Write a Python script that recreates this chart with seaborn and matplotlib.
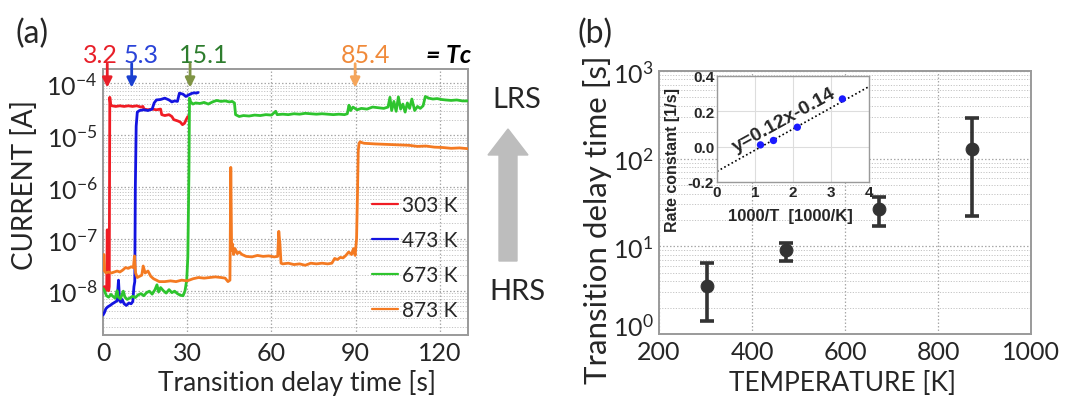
import numpy as np
import pandas as pd
import matplotlib
matplotlib.use("Agg")
import matplotlib.pyplot as plt
import seaborn as sns
from matplotlib.patches import FancyArrow
from matplotlib.transforms import ScaledTranslation
from matplotlib.ticker import LogLocator, FixedLocator, NullFormatter, MultipleLocator, FuncFormatter

# ---------------- data: panel (a) current traces ----------------
t_303 = [0.0, 0.5, 1.0, 1.3, 1.5, 1.7, 2.0, 2.2, 2.4, 2.7, 3.2, 4.5, 6.0, 7.5, 9.0, 10.5,
         12.0, 13.5, 14.2, 14.6, 16.0, 17.5, 19.0, 20.5, 20.9, 22.0, 23.5, 24.5, 25.2, 26.5,
         27.5, 28.3, 29.0, 29.6, 30.2]
i_303 = [1.1e-8, 1.2e-8, 1.0e-8, 1.1e-8, 1.5e-7, 1.2e-8, 1.0e-8, 1.2e-8, 5.4e-5, 3.8e-5,
         3.7e-5, 3.6e-5, 3.7e-5, 3.6e-5, 3.7e-5, 3.6e-5, 3.7e-5, 3.5e-5, 3.6e-5, 3.2e-5,
         3.1e-5, 3.2e-5, 3.1e-5, 3.2e-5, 2.5e-5, 2.4e-5, 2.5e-5, 2.3e-5, 2.0e-5, 1.9e-5,
         1.8e-5, 1.6e-5, 1.7e-5, 2.0e-5, 2.3e-5]

t_473 = [0.0, 0.5, 1.0, 1.7, 2.5, 3.3, 4.2, 5.0, 5.5, 5.9, 6.3, 6.8, 7.5, 8.3, 9.2, 10.0,
         10.6, 11.0, 11.3, 11.5, 11.8, 12.2, 13.0, 14.5, 16.0, 17.5, 18.2, 19.0, 20.5, 22.0,
         23.5, 24.5, 25.5, 26.5, 27.2, 28.5, 29.5, 30.5, 31.5, 32.5, 33.2, 33.9]
i_473 = [3.4e-9, 3.8e-9, 4.5e-9, 4.9e-9, 5.2e-9, 5.6e-9, 6.0e-9, 6.4e-9, 1.6e-8, 6.5e-9,
         6.0e-9, 6.8e-9, 5.6e-9, 5.2e-9, 5.8e-9, 5.6e-9, 6.2e-9, 1.2e-8, 1.5e-8, 1.0e-6,
         1.5e-5, 2.8e-5, 3.0e-5, 3.1e-5, 3.0e-5, 3.2e-5, 4.2e-5, 4.8e-5, 4.9e-5, 5.2e-5,
         4.8e-5, 4.4e-5, 4.6e-5, 4.5e-5, 6.5e-5, 6.2e-5, 5.6e-5, 6.0e-5, 6.4e-5, 6.6e-5,
         6.5e-5, 6.7e-5]

t_673 = [0.0, 0.5, 1.2, 2.0, 2.8, 3.5, 4.3, 5.0, 5.4, 6.2, 7.2, 7.8, 8.6, 9.5, 10.5, 11.5,
         12.5, 13.5, 14.5, 15.5, 16.5, 17.5, 18.5, 19.2, 19.8, 20.5, 21.5, 22.5, 23.5, 24.5,
         25.5, 26.5, 27.5, 28.5, 29.2, 29.8, 30.2, 30.6, 30.8, 31.2, 32.0, 33.0, 34.5, 36.0,
         37.5, 39.0, 40.5, 42.0, 43.5, 45.0, 46.0, 46.8, 47.2, 48.5, 50.0, 52.0, 54.0, 56.0,
         58.0, 60.0, 61.5, 62.0, 64.0, 66.0, 68.0, 70.0, 72.0, 74.0, 76.0, 78.0, 80.0, 82.0,
         84.0, 86.0, 87.0, 87.6, 88.2, 89.0, 90.5, 92.0, 94.0, 96.0, 98.0, 100.0, 101.5,
         102.2, 102.8, 103.6, 104.4, 105.2, 106.0, 106.8, 107.6, 108.4, 109.2, 110.0, 111.0,
         112.0, 113.0, 114.0, 114.8, 116.0, 117.5, 119.0, 120.5, 122.0, 124.0, 126.0, 128.0,
         130.0]
i_673 = [1.1e-8, 1.0e-8, 8.0e-9, 7.5e-9, 8.5e-9, 7.8e-9, 7.2e-9, 1.0e-8, 7.6e-9, 7.0e-9,
         9.8e-9, 7.5e-9, 6.8e-9, 7.2e-9, 7.8e-9, 7.4e-9, 8.3e-9, 8.8e-9, 8.0e-9, 9.2e-9,
         9.8e-9, 8.6e-9, 1.05e-8, 1.3e-8, 9.5e-9, 1.15e-8, 1.0e-8, 9.0e-9, 1.05e-8, 9.2e-9,
         9.8e-9, 8.8e-9, 8.2e-9, 8.0e-9, 1.0e-8, 1.6e-8, 4.5e-8, 2.0e-6, 5.2e-5, 4.4e-5,
         4.0e-5, 4.2e-5, 4.1e-5, 4.3e-5, 4.0e-5, 4.4e-5, 4.7e-5, 4.5e-5, 4.6e-5, 4.4e-5,
         4.5e-5, 4.2e-5, 2.5e-5, 2.3e-5, 2.4e-5, 2.35e-5, 2.45e-5, 2.4e-5, 2.5e-5, 2.45e-5,
         2.9e-5, 2.5e-5, 2.55e-5, 2.5e-5, 2.6e-5, 2.55e-5, 2.65e-5, 2.6e-5, 2.55e-5, 2.6e-5,
         2.55e-5, 2.5e-5, 2.55e-5, 2.5e-5, 2.6e-5, 3.8e-5, 3.0e-5, 3.5e-5, 3.1e-5, 3.3e-5,
         3.2e-5, 3.5e-5, 3.4e-5, 3.3e-5, 3.5e-5, 5.4e-5, 3.0e-5, 4.5e-5, 2.9e-5, 5.5e-5,
         3.2e-5, 4.0e-5, 2.8e-5, 4.2e-5, 3.3e-5, 5.0e-5, 3.0e-5, 3.6e-5, 3.3e-5, 3.7e-5,
         5.6e-5, 5.2e-5, 5.0e-5, 5.1e-5, 4.9e-5, 4.8e-5, 4.7e-5, 4.8e-5, 4.6e-5, 4.6e-5]

t_873 = [0.0, 0.3, 0.6, 1.0, 2.0, 3.0, 4.0, 5.0, 6.0, 7.0, 8.0, 9.0, 10.0, 10.8, 11.2, 11.6,
         12.2, 13.0, 13.8, 14.3, 15.0, 16.0, 17.0, 18.0, 19.0, 20.0, 22.0, 24.0, 26.0, 28.0,
         30.0, 32.0, 34.0, 36.0, 38.0, 40.0, 42.0, 43.5, 44.5, 45.2, 45.5, 45.8, 46.1, 46.5,
         47.0, 47.8, 48.5, 49.5, 51.0, 53.0, 55.0, 57.0, 59.0, 61.0, 62.2, 62.6, 63.0, 63.4,
         64.0, 66.0, 68.0, 70.0, 72.0, 74.0, 76.0, 78.0, 80.0, 81.5, 82.5, 83.5, 84.5, 85.5,
         86.5, 87.5, 88.5, 89.2, 89.8, 90.3, 90.6, 90.9, 91.2, 91.6, 92.2, 93.0, 95.0, 97.0,
         100.0, 103.0, 106.0, 109.0, 112.0, 115.0, 118.0, 121.0, 124.0, 127.0, 130.0]
i_873 = [2.5e-8, 5.0e-8, 2.4e-8, 2.2e-8, 2.3e-8, 2.2e-8, 2.3e-8, 2.4e-8, 2.3e-8, 2.5e-8,
         2.8e-8, 2.7e-8, 2.9e-8, 2.8e-8, 4.7e-8, 2.2e-8, 1.8e-8, 1.9e-8, 2.0e-8, 3.0e-8,
         2.2e-8, 2.4e-8, 1.9e-8, 1.7e-8, 1.6e-8, 1.5e-8, 1.5e-8, 1.55e-8, 1.5e-8, 1.6e-8,
         1.55e-8, 1.7e-8, 1.8e-8, 1.75e-8, 1.8e-8, 1.85e-8, 1.8e-8, 1.75e-8, 1.5e-8, 1.6e-8,
         2.4e-6, 6.0e-8, 8.0e-8, 5.0e-8, 6.5e-8, 5.2e-8, 5.6e-8, 5.0e-8, 4.6e-8, 4.5e-8,
         4.8e-8, 4.6e-8, 4.7e-8, 4.5e-8, 4.6e-8, 1.4e-7, 8.0e-8, 3.4e-8, 3.3e-8, 3.4e-8,
         3.2e-8, 3.3e-8, 3.1e-8, 3.4e-8, 3.3e-8, 3.4e-8, 3.3e-8, 3.4e-8, 4.2e-8, 4.0e-8,
         4.4e-8, 4.3e-8, 4.8e-8, 5.6e-8, 5.0e-8, 6.5e-8, 4.8e-8, 1.0e-7, 6.0e-7, 5.0e-6,
         7.0e-6, 7.5e-6, 7.2e-6, 7.0e-6, 6.9e-6, 6.8e-6, 6.7e-6, 6.6e-6, 6.5e-6, 6.4e-6,
         6.1e-6, 6.2e-6, 5.9e-6, 5.8e-6, 5.6e-6, 5.7e-6, 5.5e-6]

series_labels = ["303 K", "473 K", "673 K", "873 K"]
series_colors = ["#f01c24", "#1414e0", "#2ec42e", "#f47a22"]

# arrows / Tc annotations above panel (a)
tc_labels = ["3.2", "5.3", "15.1", "85.4"]
tc_arrow_t = [1.5, 10.2, 31.0, 89.8]
tc_text_t = [-1.0, 13.5, 36.0, 93.5]
tc_text_colors = ["#e8202a", "#2a44d8", "#2e7d2e", "#f08a3a"]
tc_arrow_colors = ["#e8202a", "#1a3fd0", "#7f9444", "#f5a55a"]

# ---------------- data: panel (b) ----------------
temps = [303, 473, 673, 873]
delay = [3.5, 9.0, 27.0, 130.0]
delay_low = [1.4, 6.8, 17.0, 22.0]
delay_high = [6.4, 11.0, 37.0, 290.0]

# inset
inv_T = [1.145, 1.486, 2.114, 3.30]
rate = [0.01, 0.035, 0.11, 0.27]
fit_x = [0.0, 4.0]
fit_y = [-0.14, 0.34]

# ---------------- style ----------------
sns.set_theme(style="white")
plt.rcParams["font.family"] = ["Lato", "DejaVu Sans"]
plt.rcParams["mathtext.fontset"] = "custom"
plt.rcParams["mathtext.rm"] = "Lato"
plt.rcParams["mathtext.it"] = "Lato:italic"
plt.rcParams["mathtext.bf"] = "Lato:bold"
plt.rcParams["axes.unicode_minus"] = True

TICK_FS = 18
LAB_FS = 19
SPINE_C = "#9a9a9a"
GRID_MAJ = dict(color="#a8a8a8", linestyle=(0, (1.2, 1.6)), linewidth=0.9)
GRID_MIN = dict(color="#c4c4c4", linestyle=(0, (1.2, 1.6)), linewidth=0.7)
INSET_FONT = ["Liberation Sans", "DejaVu Sans"]

fig = plt.figure(figsize=(10.69, 4.02), dpi=100)
axA = fig.add_axes([0.0964, 0.1642, 0.3414, 0.6617])
axB = fig.add_axes([0.6165, 0.1667, 0.348, 0.6542])
axI = fig.add_axes([0.6707, 0.5448, 0.1422, 0.2637])

# ---------------- panel (a) ----------------
frames = []
for tt, ii, lab in zip([t_303, t_473, t_673, t_873], [i_303, i_473, i_673, i_873], series_labels):
    frames.append(pd.DataFrame({"t": tt, "I": ii, "T": lab}))
dfA = pd.concat(frames, ignore_index=True)

for lab, col in zip(series_labels, series_colors):
    sub = dfA[dfA["T"] == lab]
    sns.lineplot(data=sub, x="t", y="I", ax=axA, color=col, lw=2.0, sort=False,
                 estimator=None, label=lab, zorder=3)

axA.set_yscale("log")
axA.set_xlim(0, 130)
axA.set_ylim(1.4e-9, 1.9e-4)
axA.xaxis.set_major_locator(MultipleLocator(30))
axA.xaxis.set_minor_locator(MultipleLocator(15))
axA.yaxis.set_major_locator(FixedLocator([1e-8, 1e-7, 1e-6, 1e-5, 1e-4]))
axA.yaxis.set_minor_locator(LogLocator(base=10, subs=np.arange(2, 10)))
axA.yaxis.set_minor_formatter(NullFormatter())
axA.grid(True, which="major", axis="both", **GRID_MAJ)
axA.grid(True, which="minor", axis="y", **GRID_MIN)
axA.set_axisbelow(True)
axA.tick_params(which="both", direction="in", color=SPINE_C, labelsize=TICK_FS, pad=4)
axA.tick_params(which="major", length=4)
axA.tick_params(which="minor", length=2.5)
for s in axA.spines.values():
    s.set_color(SPINE_C)
    s.set_linewidth(1.4)
axA.set_xlabel("Transition delay time [s]", fontsize=LAB_FS, va="center", ha="center")
axA.set_ylabel("CURRENT [A]", fontsize=20, va="center", ha="center")
axA.xaxis.set_label_coords(0.532, -0.177)
axA.yaxis.set_label_coords(-0.214, 0.568)

leg = axA.legend(loc="upper left", bbox_to_anchor=(0.737, 0.525), frameon=False, fontsize=15,
                 handlelength=1.25, handletextpad=0.2, labelspacing=0.72, borderpad=0,
                 borderaxespad=0)
for h in leg.get_lines():
    h.set_linewidth(1.6)

for lab, ta, tt, ct, ca in zip(tc_labels, tc_arrow_t, tc_text_t, tc_text_colors, tc_arrow_colors):
    axA.annotate("", xy=(ta, 0.93), xytext=(ta, 1.02), xycoords=("data", "axes fraction"),
                 textcoords=("data", "axes fraction"),
                 arrowprops=dict(arrowstyle="-|>", color=ca, lw=2.0, mutation_scale=14,
                                 shrinkA=0, shrinkB=0), annotation_clip=False, zorder=6)
    axA.text(tt, 1.053, lab, color=ct, fontsize=18, ha="center", va="center",
             transform=axA.get_xaxis_transform(), clip_on=False)
axA.text(123, 1.053, "= Tc", color="black", fontsize=18, fontweight="bold", fontstyle="italic",
         ha="center", va="center", transform=axA.get_xaxis_transform(), clip_on=False)

fig.text(32 / 1069, 1 - 34 / 402, "(a)", fontsize=23, ha="center", va="center")
fig.text(517 / 1069, 1 - 100 / 402, "LRS", fontsize=21, ha="center", va="center")
fig.text(517 / 1069, 1 - 292 / 402, "HRS", fontsize=21, ha="center", va="center")
arr = FancyArrow(5.08, 1.40, 0, 1.32, width=0.18, head_width=0.40, head_length=0.26,
                 length_includes_head=True, color="#bdbdbd", transform=fig.dpi_scale_trans)
fig.patches.append(arr)

# ---------------- panel (b) ----------------
dfB = pd.DataFrame({"T": temps, "tau": delay, "lo": delay_low, "hi": delay_high})
yerr = np.array([dfB["tau"] - dfB["lo"], dfB["hi"] - dfB["tau"]])
axB.errorbar(dfB["T"], dfB["tau"], yerr=yerr, fmt="none", ecolor="#333333", elinewidth=2.6,
             capsize=5, capthick=2.6, zorder=3)
sns.scatterplot(data=dfB, x="T", y="tau", ax=axB, color="#333333", s=85, edgecolor="#333333",
                zorder=4, legend=False)
axB.set_yscale("log")
axB.set_xlim(200, 1000)
axB.set_ylim(1, 1000)
axB.xaxis.set_major_locator(MultipleLocator(200))
axB.xaxis.set_minor_locator(MultipleLocator(100))
axB.yaxis.set_major_locator(FixedLocator([1, 10, 100, 1000]))
axB.yaxis.set_minor_locator(LogLocator(base=10, subs=np.arange(2, 10)))
axB.yaxis.set_minor_formatter(NullFormatter())
axB.grid(True, which="major", axis="both", **GRID_MAJ)
axB.grid(True, which="minor", axis="y", **GRID_MIN)
axB.set_axisbelow(True)
axB.tick_params(which="both", direction="in", color=SPINE_C, labelsize=TICK_FS, pad=4)
axB.tick_params(which="major", length=4)
axB.tick_params(which="minor", length=2.5)
for s in axB.spines.values():
    s.set_color(SPINE_C)
    s.set_linewidth(1.4)
axB.set_xlabel("TEMPERATURE [K]", fontsize=LAB_FS, va="center", ha="center")
axB.set_ylabel("Transition delay time [s]", fontsize=22.5, va="center", ha="center")
axB.xaxis.set_label_coords(0.492, -0.183)
axB.yaxis.set_label_coords(-0.165, 0.44)
fig.text(595 / 1069, 1 - 34 / 402, "(b)", fontsize=23, ha="center", va="center")

# ---------------- inset ----------------
axI.set_facecolor("white")
axI.plot(fit_x, fit_y, color="black", lw=1.2, linestyle=(0, (1, 1.5)), zorder=2)
sns.scatterplot(x=inv_T, y=rate, ax=axI, color="#1a1aff", s=28, edgecolor="none", zorder=3,
                legend=False)
axI.set_xlim(0, 4)
axI.set_ylim(-0.2, 0.4)
axI.xaxis.set_major_locator(MultipleLocator(1))
axI.yaxis.set_major_locator(MultipleLocator(0.2))
axI.yaxis.set_major_formatter(FuncFormatter(lambda v, p: f"{v:.1f}"))
axI.grid(True, color="#dddddd", lw=0.8)
axI.tick_params(which="both", direction="in", length=0, labelsize=11, pad=2)
for lbl in axI.get_xticklabels() + axI.get_yticklabels():
    lbl.set_fontweight("bold")
    lbl.set_family(INSET_FONT)
for s in axI.spines.values():
    s.set_color(SPINE_C)
    s.set_linewidth(1.0)
axI.set_xlabel("1000/T  [1000/K]", fontsize=12, fontweight="bold", family=INSET_FONT,
               va="center", ha="center")
axI.set_ylabel("Rate constant [1/s]", fontsize=11.5, fontweight="bold", family=INSET_FONT,
               va="center", ha="center")
axI.xaxis.set_label_coords(0.48, -0.32)
axI.yaxis.set_label_coords(-0.295, 0.22)
axI.text(1.76, 0.155, "y=0.12x-0.14", fontsize=14, fontweight="bold", rotation=29,
         ha="center", va="center", rotation_mode="anchor", family=INSET_FONT)

# nudge the bottom y tick label of panel (b) upward, as in the reference
fig.canvas.draw()
for tk in axB.yaxis.get_major_ticks():
    if abs(tk.get_loc() - 1.0) < 1e-9:
        lbl = tk.label1
        lbl.set_transform(lbl.get_transform() + ScaledTranslation(0, 10 / 100, fig.dpi_scale_trans))

fig.savefig("out.png", dpi=100)
